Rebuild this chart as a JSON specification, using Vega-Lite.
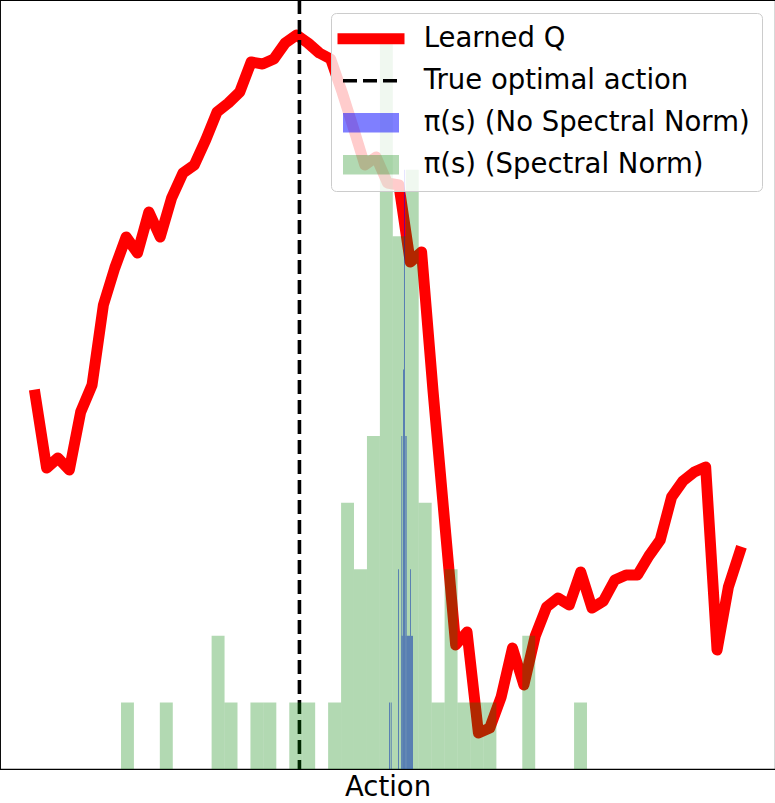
{
  "$schema": "https://vega.github.io/schema/vega-lite/v6.json",
  "width": 775,
  "height": 769,
  "autosize": {"type": "none"},
  "padding": {"left": 0, "top": 0, "right": 0, "bottom": 34},
  "background": "white",
  "config": {
    "view": {"stroke": "black", "strokeWidth": 1.1},
    "font": "DejaVu Sans",
    "axis": {"domain": false, "ticks": false, "labels": false, "grid": false, "titleFontSize": 27.5, "titleFont": "DejaVu Sans", "titleFontWeight": "normal", "titleColor": "black", "titlePadding": 4}
  },
  "datasets": {
    "q": [
      {"action": -1, "Q": 3.74, "series": "Learned Q"},
      {"action": -0.9677, "Q": 3.01, "series": "Learned Q"},
      {"action": -0.9355, "Q": 3.11, "series": "Learned Q"},
      {"action": -0.9032, "Q": 2.99, "series": "Learned Q"},
      {"action": -0.8710, "Q": 3.57, "series": "Learned Q"},
      {"action": -0.8387, "Q": 3.84, "series": "Learned Q"},
      {"action": -0.8065, "Q": 4.64, "series": "Learned Q"},
      {"action": -0.7742, "Q": 5.01, "series": "Learned Q"},
      {"action": -0.7419, "Q": 5.32, "series": "Learned Q"},
      {"action": -0.7097, "Q": 5.16, "series": "Learned Q"},
      {"action": -0.6774, "Q": 5.57, "series": "Learned Q"},
      {"action": -0.6452, "Q": 5.32, "series": "Learned Q"},
      {"action": -0.6129, "Q": 5.71, "series": "Learned Q"},
      {"action": -0.5806, "Q": 5.96, "series": "Learned Q"},
      {"action": -0.5484, "Q": 6.04, "series": "Learned Q"},
      {"action": -0.5161, "Q": 6.29, "series": "Learned Q"},
      {"action": -0.4839, "Q": 6.57, "series": "Learned Q"},
      {"action": -0.4516, "Q": 6.66, "series": "Learned Q"},
      {"action": -0.4194, "Q": 6.77, "series": "Learned Q"},
      {"action": -0.3871, "Q": 7.07, "series": "Learned Q"},
      {"action": -0.3548, "Q": 7.05, "series": "Learned Q"},
      {"action": -0.3226, "Q": 7.10, "series": "Learned Q"},
      {"action": -0.2903, "Q": 7.26, "series": "Learned Q"},
      {"action": -0.2581, "Q": 7.34, "series": "Learned Q"},
      {"action": -0.2258, "Q": 7.26, "series": "Learned Q"},
      {"action": -0.1935, "Q": 7.16, "series": "Learned Q"},
      {"action": -0.1613, "Q": 7.10, "series": "Learned Q"},
      {"action": -0.1290, "Q": 6.77, "series": "Learned Q"},
      {"action": -0.0968, "Q": 6.41, "series": "Learned Q"},
      {"action": -0.0645, "Q": 6.04, "series": "Learned Q"},
      {"action": -0.0323, "Q": 6.12, "series": "Learned Q"},
      {"action": 0, "Q": 5.86, "series": "Learned Q"},
      {"action": 0.0323, "Q": 5.84, "series": "Learned Q"},
      {"action": 0.0645, "Q": 5.07, "series": "Learned Q"},
      {"action": 0.0968, "Q": 5.17, "series": "Learned Q"},
      {"action": 0.1290, "Q": 3.79, "series": "Learned Q"},
      {"action": 0.1613, "Q": 2.51, "series": "Learned Q"},
      {"action": 0.1935, "Q": 1.24, "series": "Learned Q"},
      {"action": 0.2258, "Q": 1.37, "series": "Learned Q"},
      {"action": 0.2581, "Q": 0.36, "series": "Learned Q"},
      {"action": 0.2903, "Q": 0.41, "series": "Learned Q"},
      {"action": 0.3226, "Q": 0.72, "series": "Learned Q"},
      {"action": 0.3548, "Q": 1.21, "series": "Learned Q"},
      {"action": 0.3871, "Q": 0.84, "series": "Learned Q"},
      {"action": 0.4194, "Q": 1.33, "series": "Learned Q"},
      {"action": 0.4516, "Q": 1.62, "series": "Learned Q"},
      {"action": 0.4839, "Q": 1.71, "series": "Learned Q"},
      {"action": 0.5161, "Q": 1.64, "series": "Learned Q"},
      {"action": 0.5484, "Q": 1.97, "series": "Learned Q"},
      {"action": 0.5806, "Q": 1.61, "series": "Learned Q"},
      {"action": 0.6129, "Q": 1.68, "series": "Learned Q"},
      {"action": 0.6452, "Q": 1.89, "series": "Learned Q"},
      {"action": 0.6774, "Q": 1.94, "series": "Learned Q"},
      {"action": 0.7097, "Q": 1.94, "series": "Learned Q"},
      {"action": 0.7419, "Q": 2.13, "series": "Learned Q"},
      {"action": 0.7742, "Q": 2.29, "series": "Learned Q"},
      {"action": 0.8065, "Q": 2.72, "series": "Learned Q"},
      {"action": 0.8387, "Q": 2.88, "series": "Learned Q"},
      {"action": 0.8710, "Q": 2.97, "series": "Learned Q"},
      {"action": 0.9032, "Q": 3.02, "series": "Learned Q"},
      {"action": 0.9355, "Q": 1.19, "series": "Learned Q"},
      {"action": 0.9677, "Q": 1.82, "series": "Learned Q"},
      {"action": 1, "Q": 2.17, "series": "Learned Q"}
    ],
    "opt": [
      {"action": -0.25, "series": "True optimal action"}
    ],
    "nosn": [
      {"x0": 0.0043, "x1": 0.0071, "count": 1, "series": "π(s) (No Spectral Norm)"},
      {"x0": 0.0091, "x1": 0.0119, "count": 1, "series": "π(s) (No Spectral Norm)"},
      {"x0": 0.0298, "x1": 0.0326, "count": 3, "series": "π(s) (No Spectral Norm)"},
      {"x0": 0.0383, "x1": 0.0392, "count": 2, "series": "π(s) (No Spectral Norm)"},
      {"x0": 0.0392, "x1": 0.0420, "count": 5, "series": "π(s) (No Spectral Norm)"},
      {"x0": 0.0420, "x1": 0.0440, "count": 2, "series": "π(s) (No Spectral Norm)"},
      {"x0": 0.0440, "x1": 0.0468, "count": 6, "series": "π(s) (No Spectral Norm)"},
      {"x0": 0.0468, "x1": 0.0497, "count": 9, "series": "π(s) (No Spectral Norm)"},
      {"x0": 0.0497, "x1": 0.0505, "count": 2, "series": "π(s) (No Spectral Norm)"},
      {"x0": 0.0505, "x1": 0.0545, "count": 5, "series": "π(s) (No Spectral Norm)"},
      {"x0": 0.0545, "x1": 0.0639, "count": 2, "series": "π(s) (No Spectral Norm)"},
      {"x0": 0.0639, "x1": 0.0667, "count": 3, "series": "π(s) (No Spectral Norm)"},
      {"x0": 0.0667, "x1": 0.0724, "count": 2, "series": "π(s) (No Spectral Norm)"}
    ],
    "sn": [
      {"x0": -0.7565, "x1": -0.7198, "count": 1, "series": "π(s) (Spectral Norm)"},
      {"x0": -0.6463, "x1": -0.6095, "count": 1, "series": "π(s) (Spectral Norm)"},
      {"x0": -0.4993, "x1": -0.4625, "count": 2, "series": "π(s) (Spectral Norm)"},
      {"x0": -0.4625, "x1": -0.4258, "count": 1, "series": "π(s) (Spectral Norm)"},
      {"x0": -0.3891, "x1": -0.3523, "count": 1, "series": "π(s) (Spectral Norm)"},
      {"x0": -0.3523, "x1": -0.3156, "count": 1, "series": "π(s) (Spectral Norm)"},
      {"x0": -0.2788, "x1": -0.2421, "count": 1, "series": "π(s) (Spectral Norm)"},
      {"x0": -0.2421, "x1": -0.2053, "count": 1, "series": "π(s) (Spectral Norm)"},
      {"x0": -0.1686, "x1": -0.1318, "count": 1, "series": "π(s) (Spectral Norm)"},
      {"x0": -0.1318, "x1": -0.0951, "count": 4, "series": "π(s) (Spectral Norm)"},
      {"x0": -0.0951, "x1": -0.0583, "count": 3, "series": "π(s) (Spectral Norm)"},
      {"x0": -0.0583, "x1": -0.0216, "count": 5, "series": "π(s) (Spectral Norm)"},
      {"x0": -0.0216, "x1": 0.0151, "count": 11, "series": "π(s) (Spectral Norm)"},
      {"x0": 0.0151, "x1": 0.0519, "count": 8, "series": "π(s) (Spectral Norm)"},
      {"x0": 0.0519, "x1": 0.0886, "count": 9, "series": "π(s) (Spectral Norm)"},
      {"x0": 0.0886, "x1": 0.1254, "count": 4, "series": "π(s) (Spectral Norm)"},
      {"x0": 0.1254, "x1": 0.1621, "count": 1, "series": "π(s) (Spectral Norm)"},
      {"x0": 0.1621, "x1": 0.1989, "count": 3, "series": "π(s) (Spectral Norm)"},
      {"x0": 0.1989, "x1": 0.2356, "count": 1, "series": "π(s) (Spectral Norm)"},
      {"x0": 0.2356, "x1": 0.2724, "count": 1, "series": "π(s) (Spectral Norm)"},
      {"x0": 0.2724, "x1": 0.3091, "count": 1, "series": "π(s) (Spectral Norm)"},
      {"x0": 0.3826, "x1": 0.4193, "count": 2, "series": "π(s) (Spectral Norm)"},
      {"x0": 0.5296, "x1": 0.5663, "count": 1, "series": "π(s) (Spectral Norm)"}
    ]
  },
  "resolve": {"scale": {"y": "independent"}, "axis": {"y": "independent"}},
  "layer": [
    {
      "data": {"name": "q"},
      "mark": {"type": "line", "strokeWidth": 11, "strokeCap": "square", "strokeJoin": "round"},
      "encoding": {
        "x": {"field": "action", "type": "quantitative", "scale": {"domain": [-1.1, 1.1], "nice": false, "zero": false}, "axis": {"title": "Action"}},
        "y": {"field": "Q", "type": "quantitative", "scale": {"domain": [0, 7.69], "nice": false, "zero": false}, "axis": null},
        "color": {
          "field": "series", "type": "nominal",
          "scale": {"domain": ["Learned Q", "True optimal action", "π(s) (No Spectral Norm)", "π(s) (Spectral Norm)"], "range": ["red", "black", "blue", "green"]},
          "legend": {
            "title": null,
            "orient": "top-right",
            "offset": 13,
            "padding": 12,
            "fillColor": "rgba(255,255,255,0.8)",
            "strokeColor": "#cccccc",
            "cornerRadius": 5,
            "labelFontSize": 27.5,
            "labelFont": "DejaVu Sans",
            "labelColor": "black",
            "labelLimit": 600,
            "labelOffset": 39,
            "symbolOffset": 14.25,
            "symbolSize": 64,
            "rowPadding": 13,
            "encode": {
              "symbols": {
                "update": {
                  "shape": {"signal": "datum.value === 'Learned Q' ? 'M-8.375,-1.375H8.375V1.375H-8.375Z' : (datum.value === 'True optimal action' ? 'M-7,0H7' : 'M-7,-2.45H7V2.45H-7Z')"},
                  "stroke": {"signal": "datum.value === 'True optimal action' ? 'black' : 'transparent'"},
                  "fill": {"signal": "datum.value === 'Learned Q' ? 'red' : (datum.value === 'π(s) (No Spectral Norm)' ? 'blue' : (datum.value === 'π(s) (Spectral Norm)' ? 'green' : 'transparent'))"},
                  "fillOpacity": {"signal": "datum.value === 'Learned Q' ? 1 : (datum.value === 'π(s) (No Spectral Norm)' ? 0.5 : 0.3)"},
                  "strokeOpacity": {"value": 1},
                  "opacity": {"value": 1},
                  "strokeWidth": {"signal": "datum.value === 'True optimal action' ? 3.6 : 0"},
                  "strokeDash": {"signal": "datum.value === 'True optimal action' ? [14, 6] : [1000, 0]"},
                  "strokeCap": {"value": "butt"},
                  "strokeJoin": {"value": "round"}
                }
              }
            }
          }
        }
      }
    },
    {
      "data": {"name": "opt"},
      "mark": {"type": "rule", "strokeWidth": 3.6, "strokeDash": [14, 6]},
      "encoding": {
        "x": {"field": "action", "type": "quantitative", "scale": {"domain": [-1.1, 1.1], "nice": false, "zero": false}, "axis": {"title": "Action"}},
        "color": {"field": "series", "type": "nominal"}
      }
    },
    {
      "data": {"name": "nosn"},
      "mark": {"type": "rect", "opacity": 0.5},
      "encoding": {
        "x": {"field": "x0", "type": "quantitative", "scale": {"domain": [-1.1, 1.1], "nice": false, "zero": false}, "axis": {"title": "Action"}},
        "x2": {"field": "x1"},
        "y": {"field": "count", "type": "quantitative", "scale": {"domain": [0, 11.55], "nice": false, "zero": true}, "axis": null},
        "y2": {"datum": 0},
        "color": {"field": "series", "type": "nominal"}
      }
    },
    {
      "data": {"name": "sn"},
      "mark": {"type": "rect", "opacity": 0.3},
      "encoding": {
        "x": {"field": "x0", "type": "quantitative", "scale": {"domain": [-1.1, 1.1], "nice": false, "zero": false}, "axis": {"title": "Action"}},
        "x2": {"field": "x1"},
        "y": {"field": "count", "type": "quantitative", "scale": {"domain": [0, 11.55], "nice": false, "zero": true}, "axis": null},
        "y2": {"datum": 0},
        "color": {"field": "series", "type": "nominal"}
      }
    }
  ]
}
